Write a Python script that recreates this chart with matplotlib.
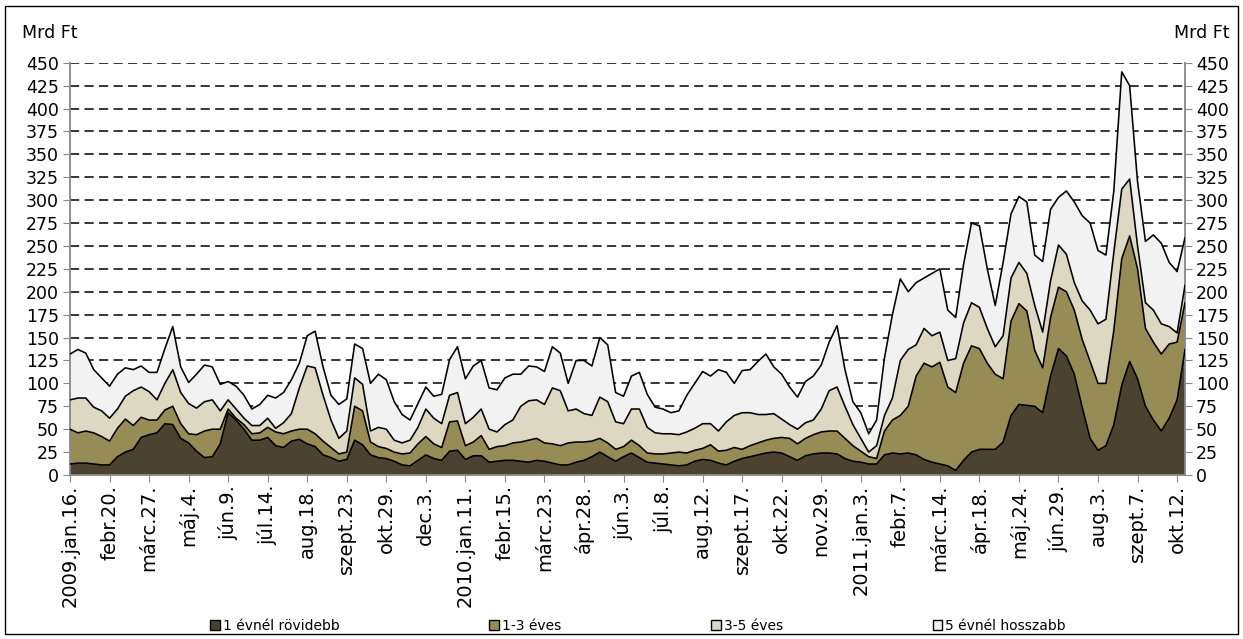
import numpy as np
import matplotlib
matplotlib.use("Agg")
import matplotlib.pyplot as plt
from matplotlib.patches import Rectangle

# weekly readings, 2009.jan.16 - 2011.okt, Mrd Ft
tick_labels = ["2009.jan.16.", "febr.20.", "márc.27.", "máj.4.", "jún.9.", "júl.14.",
               "aug.18.", "szept.23.", "okt.29.", "dec.3.", "2010.jan.11.", "febr.15.",
               "márc.23.", "ápr.28.", "jún.3.", "júl.8.", "aug.12.", "szept.17.",
               "okt.22.", "nov.29.", "2011.jan.3.", "febr.7.", "márc.14.", "ápr.18.",
               "máj.24.", "jún.29.", "aug.3.", "szept.7.", "okt.12."]

series_names = ["1 évnél rövidebb", "1-3 éves", "3-5 éves", "5 évnél hosszabb"]

lt_1y = [12, 13, 13, 12, 11, 11, 20, 25, 28, 41, 44, 46, 56, 55, 40, 35, 26, 19, 20, 34,
         68, 60, 50, 38, 38, 41, 32, 30, 37, 39, 34, 31, 22, 19, 15, 17, 38, 33, 22, 19,
         18, 15, 11, 10, 16, 22, 18, 16, 26, 27, 17, 21, 21, 14, 15, 16, 16, 15, 14, 16,
         15, 13, 11, 11, 14, 16, 20, 25, 20, 15, 20, 24, 19, 14, 13, 12, 11, 10, 11, 15,
         17, 16, 13, 11, 15, 18, 20, 22, 24, 25, 24, 20, 16, 21, 23, 24, 24, 23, 18, 15,
         14, 12, 12, 22, 24, 23, 24, 22, 17, 14, 12, 10, 5, 16, 25, 28, 28, 28, 36, 65,
         77, 76, 75, 68, 108, 138, 130, 110, 74, 40, 27, 32, 55, 98, 124, 105, 75, 60, 48, 62,
         82, 137]

y1_3 = [38, 33, 35, 34, 31, 26, 31, 36, 26, 22, 16, 14, 15, 20, 16, 10, 18, 29, 30, 16,
        4, 2, 5, 7, 8, 11, 15, 15, 11, 11, 16, 14, 15, 11, 8, 8, 37, 37, 14, 12,
        11, 10, 12, 14, 18, 20, 16, 14, 32, 32, 15, 15, 22, 14, 16, 16, 19, 21, 24, 24,
        20, 21, 21, 24, 22, 20, 17, 15, 15, 13, 11, 14, 13, 10, 10, 11, 13, 15, 13, 12,
        12, 17, 13, 16, 15, 10, 12, 13, 14, 15, 17, 20, 18, 19, 21, 23, 24, 25, 22, 17,
        12, 8, 6, 26, 36, 42, 51, 86, 105, 104, 111, 86, 85, 106, 116, 110, 94, 82, 69, 103,
        110, 103, 61, 49, 64, 67, 70, 70, 74, 84, 73, 68, 103, 138, 137, 120, 85, 85, 84, 81,
        63, 51]

y3_5 = [32, 38, 36, 28, 28, 25, 21, 25, 38, 33, 31, 22, 29, 40, 34, 33, 29, 32, 32, 20,
        10, 10, 7, 9, 8, 10, 4, 12, 19, 45, 69, 72, 50, 30, 17, 23, 31, 29, 12, 21,
        21, 13, 12, 14, 18, 30, 28, 26, 29, 31, 24, 27, 29, 22, 16, 23, 25, 39, 43, 42,
        42, 61, 60, 35, 36, 31, 28, 45, 45, 30, 25, 34, 40, 28, 23, 22, 21, 19, 23, 24,
        27, 23, 22, 31, 35, 40, 36, 31, 28, 27, 20, 15, 16, 17, 16, 25, 44, 48, 35, 23,
        14, 5, 14, 17, 24, 60, 62, 34, 38, 34, 33, 29, 37, 44, 47, 45, 38, 30, 47, 47,
        45, 41, 49, 39, 40, 46, 41, 30, 42, 56, 65, 70, 85, 76, 62, 25, 28, 35, 33, 19,
        10, 19]

gt_5y = [50, 53, 49, 41, 36, 35, 38, 31, 23, 23, 21, 30, 38, 47, 28, 23, 37, 40, 36, 29,
         20, 25, 25, 18, 23, 25, 33, 33, 37, 27, 33, 40, 31, 27, 37, 35, 37, 39, 52, 58,
         54, 42, 31, 22, 26, 24, 24, 32, 39, 50, 49, 56, 53, 45, 46, 51, 50, 35, 38, 36,
         36, 45, 41, 30, 53, 58, 54, 65, 62, 32, 30, 36, 40, 36, 28, 27, 23, 26, 40, 49,
         57, 52, 67, 54, 35, 46, 47, 58, 66, 51, 49, 41, 35, 45, 48, 48, 53, 67, 40, 25,
         28, 20, 28, 63, 91, 89, 63, 68, 55, 68, 69, 55, 45, 64, 87, 89, 65, 45, 80, 70,
         72, 78, 55, 77, 78, 52, 69, 88, 93, 95, 80, 70, 67, 128, 102, 70, 67, 82, 88, 70,
         67, 52]

colors = ["#4b4330", "#978b56", "#ddd8c2", "#f2f2f2"]

weeks = np.arange(len(lt_1y))
layers = np.array([lt_1y, y1_3, y3_5, gt_5y])
tops = np.cumsum(layers, axis=0)

fig = plt.figure(figsize=(12.43, 6.39), dpi=100)
ax = fig.add_axes([70 / 1243, 1 - 475 / 639, 1115 / 1243, 412.3 / 639])

ax.stackplot(weeks, layers, colors=colors, linewidth=0, zorder=2)
for t in tops:
    ax.plot(weeks, t, color="black", lw=1.15, zorder=3)

ax.set_xlim(0, weeks[-1])
ax.set_ylim(0, 450)
ax.set_yticks(range(0, 451, 25))
ax.set_xticks(range(0, len(weeks), 5))
ax.set_xticklabels(tick_labels, rotation=90, fontsize=14)

ax.set_axisbelow(True)
ax.yaxis.grid(True, color="black", ls=(0, (6, 3.5)), lw=1.1)

ax.tick_params(axis="y", which="both", left=True, right=True, labelleft=True,
               labelright=True, direction="out", length=5, color="#888888",
               labelsize=12.5, pad=3)
ax.tick_params(axis="x", direction="out", length=5, color="#888888", pad=2)
ax.spines["top"].set_visible(False)
for s in ["left", "right", "bottom"]:
    ax.spines[s].set_color("#888888")
    ax.spines[s].set_linewidth(1.3)

fig.text(22 / 1243, 1 - 33 / 639, "Mrd Ft", fontsize=12.5, va="center", ha="left")
fig.text(1230 / 1243, 1 - 33 / 639, "Mrd Ft", fontsize=12.5, va="center", ha="right")

handles = [Rectangle((0, 0), 1, 1, facecolor=c, edgecolor="black", lw=1) for c in colors]
fig.legend(handles, series_names, loc="center", bbox_to_anchor=(638 / 1243, 1 - 626 / 639),
           ncol=4, frameon=False, fontsize=10, handlelength=0.7, handleheight=0.7,
           handletextpad=0.2, columnspacing=10.8)

fig.add_artist(Rectangle((5 / 1243, 5 / 639), 1233 / 1243, 628 / 639, transform=fig.transFigure,
                         fill=False, edgecolor="black", lw=1))

fig.savefig("out.png", dpi=100)
